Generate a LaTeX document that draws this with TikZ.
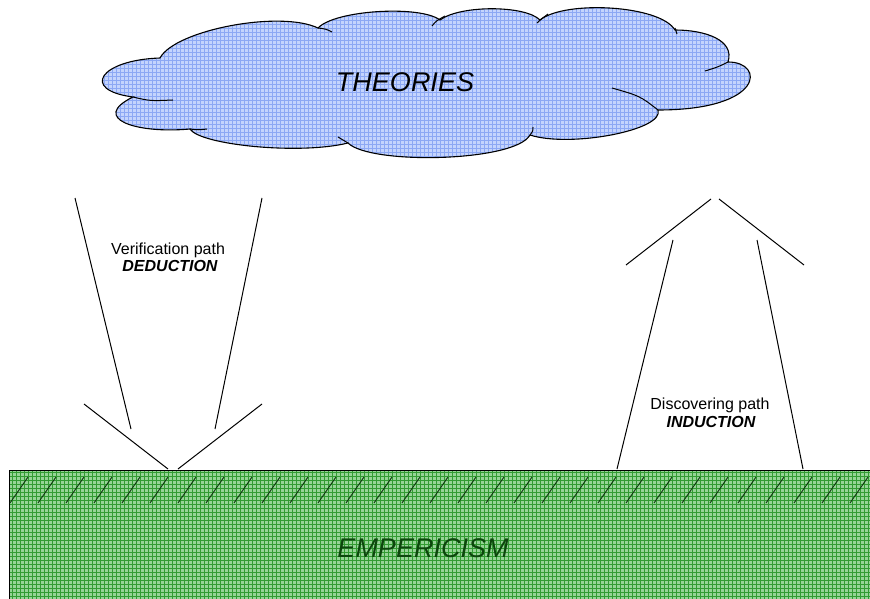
\documentclass[tikz,border=0pt]{standalone}
\usepackage{fontspec}
\setmainfont{Liberation Sans}
\definecolor{cloudbase}{RGB}{196,212,253}
\definecolor{cloudgrid}{RGB}{140,168,244}
\definecolor{grassbase}{RGB}{150,212,150}
\definecolor{grassgrid}{RGB}{50,155,50}
\definecolor{hatchcol}{RGB}{15,55,15}
\definecolor{emptext}{RGB}{12,70,12}
\tikzset{
  outline/.style={draw=black, line width=1pt},
  pathlabel/.style={anchor=base, inner sep=0pt, font=\fontsize{16}{18}\selectfont},
  pathkind/.style={anchor=base, inner sep=0pt, font=\fontsize{16}{18}\selectfont\bfseries\itshape},
  bigtitle/.style={anchor=base, inner sep=0pt, font=\fontsize{27}{30}\selectfont\itshape},
  hatch/.style={draw=hatchcol, line width=0.9pt}
}
\def\cloudpath{(160,58) .. controls (175,30) and (280,10) .. (318,28)
  .. controls (335,10) and (420,5) .. (440,20)
  .. controls (460,5) and (525,5) .. (540,20)
  .. controls (565,0) and (660,5) .. (675,30)
  .. controls (705,30) and (735,40) .. (728,62)
  .. controls (765,62) and (765,110) .. (658,110)
  .. controls (665,130) and (570,148) .. (530,135)
  .. controls (515,162) and (370,165) .. (348,143)
  .. controls (300,155) and (200,145) .. (190,129)
  .. controls (135,134) and (90,118) .. (133,97)
  .. controls (80,90) and (100,60) .. (160,58) -- cycle}
\begin{document}
\begin{tikzpicture}[x=1pt,y=-1pt]
\useasboundingbox (0,0) rectangle (870,599);
% cloud
\fill[cloudbase] \cloudpath;
\begin{scope}
  \clip \cloudpath;
  \draw[cloudgrid, line width=0.5pt, step=4pt] (96,0) grid (772,172);
\end{scope}
\draw[outline, line width=1.1pt] \cloudpath;
\draw[outline] (133,97) .. controls (150,101) .. (173,100);
\draw[outline] (190,129) .. controls (198,130) .. (207,129);
\draw[outline] (318,28) .. controls (326,29) .. (332,32);
\draw[outline] (432,26) .. controls (436,21) .. (445,16);
\draw[outline] (537,23) .. controls (540,20) .. (548,14);
\draw[outline] (675,28) -- (677,34);
\draw[outline] (728,62) .. controls (718,67) .. (705,71);
\draw[outline] (658,110) .. controls (640,96) .. (612,88);
\draw[outline] (530,135) .. controls (533,131) .. (533,127);
\draw[outline] (348,143) .. controls (343,140) .. (338,137);
\node[bigtitle] (theories) at (405,92) {THEORIES};
% ground
\fill[grassbase] (9,470) rectangle (880,610);
\begin{scope}
  \clip (9,470) rectangle (880,610);
  \draw[grassgrid, line width=0.55pt, step=4pt] (9,470) grid (880,610);
\end{scope}
\draw[outline] (880,470) -- (9,470) -- (9,610);
\foreach \k in {0,...,30} {
  \draw[hatch] (10+28*\k,503) -- (28+28*\k,477);
}
\node[bigtitle, text=emptext] (emp) at (423,557) {EMPERICISM};
% deduction arrow
\coordinate (d1) at (75,198);
\coordinate (d2) at (131,429);
\coordinate (d3) at (262,198);
\coordinate (d4) at (215,429);
\coordinate (d5) at (84,404);
\coordinate (d6) at (168,469);
\coordinate (d7) at (262,404);
\coordinate (d8) at (178,469);
\draw[outline] (d1) -- (d2);
\draw[outline] (d3) -- (d4);
\draw[outline] (d5) -- (d6);
\draw[outline] (d7) -- (d8);
\node[pathlabel] (ver) at (168,254) {Verification path};
\node[pathkind] (ded) at (170,271) {DEDUCTION};
% induction arrow
\coordinate (i1) at (626,265);
\coordinate (i2) at (711,199);
\coordinate (i3) at (719,199);
\coordinate (i4) at (804,265);
\coordinate (i5) at (673,240);
\coordinate (i6) at (617,469);
\coordinate (i7) at (757,240);
\coordinate (i8) at (803,469);
\draw[outline] (i1) -- (i2);
\draw[outline] (i3) -- (i4);
\draw[outline] (i5) -- (i6);
\draw[outline] (i7) -- (i8);
\node[pathlabel] (dis) at (710,409) {Discovering path};
\node[pathkind] (ind) at (711,427) {INDUCTION};
\end{tikzpicture}
\end{document}
